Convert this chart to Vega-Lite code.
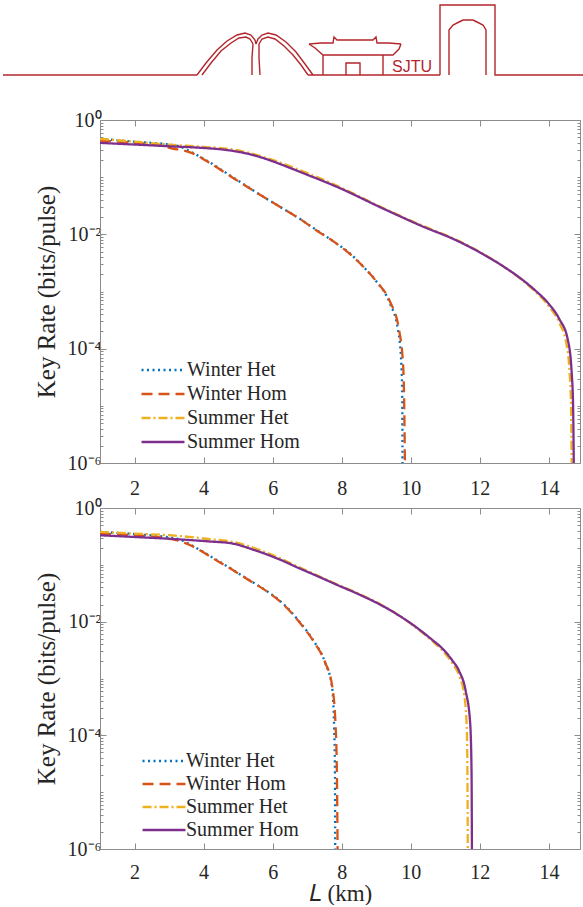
{
  "$schema": "https://vega.github.io/schema/vega-lite/v6.json",
  "padding": 0,
  "autosize": {"type": "pad"},
  "background": "white",
  "datasets": {
    "logo": [
      {"s":"b1","i":0,"px":0,"py":75},{"s":"b1","i":1,"px":194,"py":75},
      {"s":"a1","i":0,"px":194,"py":75},{"s":"a1","i":1,"px":203,"py":63},{"s":"a1","i":2,"px":214,"py":50},{"s":"a1","i":3,"px":224,"py":41},{"s":"a1","i":4,"px":234,"py":35},{"s":"a1","i":5,"px":242,"py":33},{"s":"a1","i":6,"px":248,"py":35},{"s":"a1","i":7,"px":252,"py":40},{"s":"a1","i":8,"px":253,"py":44},
      {"s":"a2","i":0,"px":199,"py":75},{"s":"a2","i":1,"px":208,"py":63},{"s":"a2","i":2,"px":218,"py":51},{"s":"a2","i":3,"px":228,"py":43},{"s":"a2","i":4,"px":236,"py":38},{"s":"a2","i":5,"px":243,"py":37},{"s":"a2","i":6,"px":247,"py":39},{"s":"a2","i":7,"px":250,"py":44},
      {"s":"s1","i":0,"px":250,"py":44},{"s":"s1","i":1,"px":249,"py":58},{"s":"s1","i":2,"px":249,"py":75},
      {"s":"s2","i":0,"px":256,"py":44},{"s":"s2","i":1,"px":256,"py":58},{"s":"s2","i":2,"px":257,"py":75},
      {"s":"a3","i":0,"px":253,"py":44},{"s":"a3","i":1,"px":255,"py":39},{"s":"a3","i":2,"px":259,"py":35},{"s":"a3","i":3,"px":265,"py":33},{"s":"a3","i":4,"px":273,"py":35},{"s":"a3","i":5,"px":283,"py":42},{"s":"a3","i":6,"px":293,"py":52},{"s":"a3","i":7,"px":302,"py":64},{"s":"a3","i":8,"px":310,"py":75},
      {"s":"a4","i":0,"px":256,"py":44},{"s":"a4","i":1,"px":259,"py":39},{"s":"a4","i":2,"px":265,"py":37},{"s":"a4","i":3,"px":272,"py":39},{"s":"a4","i":4,"px":281,"py":46},{"s":"a4","i":5,"px":290,"py":55},{"s":"a4","i":6,"px":298,"py":65},{"s":"a4","i":7,"px":305,"py":75},
      {"s":"b2","i":0,"px":305,"py":75},{"s":"b2","i":1,"px":437,"py":75},
      {"s":"r1","i":0,"px":306,"py":44},{"s":"r1","i":1,"px":318,"py":43},{"s":"r1","i":2,"px":330,"py":43},{"s":"r1","i":3,"px":331,"py":37},{"s":"r1","i":4,"px":334,"py":40},{"s":"r1","i":5,"px":370,"py":40},{"s":"r1","i":6,"px":373,"py":37},{"s":"r1","i":7,"px":374,"py":43},{"s":"r1","i":8,"px":386,"py":43},{"s":"r1","i":9,"px":398,"py":44},
      {"s":"r2","i":0,"px":306,"py":44},{"s":"r2","i":1,"px":312,"py":48},{"s":"r2","i":2,"px":320,"py":55},{"s":"r2","i":3,"px":390,"py":55},{"s":"r2","i":4,"px":396,"py":49},{"s":"r2","i":5,"px":398,"py":44},
      {"s":"w1","i":0,"px":320,"py":55},{"s":"w1","i":1,"px":320,"py":75},
      {"s":"w2","i":0,"px":380,"py":55},{"s":"w2","i":1,"px":380,"py":75},
      {"s":"d1","i":0,"px":343,"py":75},{"s":"d1","i":1,"px":343,"py":63},{"s":"d1","i":2,"px":357,"py":63},{"s":"d1","i":3,"px":357,"py":75},
      {"s":"t1","i":0,"px":437,"py":75},{"s":"t1","i":1,"px":437,"py":5},{"s":"t1","i":2,"px":492,"py":5},{"s":"t1","i":3,"px":492,"py":75},{"s":"t1","i":4,"px":583,"py":75},
      {"s":"t2","i":0,"px":446,"py":75},{"s":"t2","i":1,"px":446,"py":30},{"s":"t2","i":2,"px":450,"py":25},{"s":"t2","i":3,"px":456,"py":22},{"s":"t2","i":4,"px":460,"py":20},{"s":"t2","i":5,"px":470,"py":20},{"s":"t2","i":6,"px":474,"py":22},{"s":"t2","i":7,"px":480,"py":25},{"s":"t2","i":8,"px":483,"py":30},{"s":"t2","i":9,"px":483,"py":75}
    ],
    "top": [
      {"series":"Winter Het","x":1,"y":0.468},{"series":"Winter Het","x":2,"y":0.417},{"series":"Winter Het","x":3,"y":0.372},{"series":"Winter Het","x":3.3,"y":0.347},{"series":"Winter Het","x":3.67,"y":0.269},{"series":"Winter Het","x":4.06,"y":0.2},{"series":"Winter Het","x":4.82,"y":0.102},{"series":"Winter Het","x":5.8,"y":0.0427},{"series":"Winter Het","x":6.3,"y":0.0282},{"series":"Winter Het","x":6.76,"y":0.0191},{"series":"Winter Het","x":7.26,"y":0.012},{"series":"Winter Het","x":7.75,"y":0.00759},{"series":"Winter Het","x":8.23,"y":0.00468},{"series":"Winter Het","x":8.71,"y":0.0024},{"series":"Winter Het","x":9.0,"y":0.00151},{"series":"Winter Het","x":9.39,"y":0.000631},{"series":"Winter Het","x":9.63,"y":0.000214},{"series":"Winter Het","x":9.73,"y":0.000049},{"series":"Winter Het","x":9.755,"y":0.00001},{"series":"Winter Het","x":9.76,"y":0.000001},
      {"series":"Winter Hom","x":1,"y":0.437},{"series":"Winter Hom","x":2,"y":0.398},{"series":"Winter Hom","x":2.8,"y":0.355},{"series":"Winter Hom","x":3.1,"y":0.316},{"series":"Winter Hom","x":3.4,"y":0.295},{"series":"Winter Hom","x":3.67,"y":0.263},{"series":"Winter Hom","x":4.06,"y":0.195},{"series":"Winter Hom","x":4.82,"y":0.1},{"series":"Winter Hom","x":5.8,"y":0.0427},{"series":"Winter Hom","x":6.3,"y":0.0282},{"series":"Winter Hom","x":6.76,"y":0.0191},{"series":"Winter Hom","x":7.26,"y":0.0118},{"series":"Winter Hom","x":7.75,"y":0.00759},{"series":"Winter Hom","x":8.23,"y":0.00457},{"series":"Winter Hom","x":8.71,"y":0.0024},{"series":"Winter Hom","x":9.0,"y":0.00151},{"series":"Winter Hom","x":9.4,"y":0.000661},{"series":"Winter Hom","x":9.66,"y":0.000214},{"series":"Winter Hom","x":9.78,"y":0.000049},{"series":"Winter Hom","x":9.81,"y":0.00001},{"series":"Winter Hom","x":9.83,"y":0.000001},
      {"series":"Summer Het","x":1,"y":0.468},{"series":"Summer Het","x":2,"y":0.417},{"series":"Summer Het","x":3,"y":0.372},{"series":"Summer Het","x":4,"y":0.339},{"series":"Summer Het","x":4.8,"y":0.309},{"series":"Summer Het","x":5.8,"y":0.219},{"series":"Summer Het","x":6.8,"y":0.132},{"series":"Summer Het","x":7.9,"y":0.0692},{"series":"Summer Het","x":9.2,"y":0.0288},{"series":"Summer Het","x":10.3,"y":0.0145},{"series":"Summer Het","x":11.3,"y":0.00813},{"series":"Summer Het","x":12.1,"y":0.00457},{"series":"Summer Het","x":12.6,"y":0.00295},{"series":"Summer Het","x":13.2,"y":0.00162},{"series":"Summer Het","x":13.6,"y":0.001},{"series":"Summer Het","x":14.0,"y":0.00055},{"series":"Summer Het","x":14.3,"y":0.000282},{"series":"Summer Het","x":14.5,"y":0.000126},{"series":"Summer Het","x":14.6,"y":0.0000372},{"series":"Summer Het","x":14.64,"y":0.00001},{"series":"Summer Het","x":14.66,"y":0.000001},
      {"series":"Summer Hom","x":1,"y":0.398},{"series":"Summer Hom","x":2,"y":0.372},{"series":"Summer Hom","x":3,"y":0.347},{"series":"Summer Hom","x":4,"y":0.324},{"series":"Summer Hom","x":4.6,"y":0.302},{"series":"Summer Hom","x":5.2,"y":0.263},{"series":"Summer Hom","x":5.8,"y":0.209},{"series":"Summer Hom","x":6.3,"y":0.162},{"series":"Summer Hom","x":6.8,"y":0.123},{"series":"Summer Hom","x":7.9,"y":0.0661},{"series":"Summer Hom","x":9.2,"y":0.0282},{"series":"Summer Hom","x":10.3,"y":0.0141},{"series":"Summer Hom","x":11.3,"y":0.00794},{"series":"Summer Hom","x":12.1,"y":0.00447},{"series":"Summer Hom","x":12.6,"y":0.00295},{"series":"Summer Hom","x":13.2,"y":0.00166},{"series":"Summer Hom","x":13.6,"y":0.00105},{"series":"Summer Hom","x":14.0,"y":0.000603},{"series":"Summer Hom","x":14.3,"y":0.000331},{"series":"Summer Hom","x":14.55,"y":0.000141},{"series":"Summer Hom","x":14.66,"y":0.0000372},{"series":"Summer Hom","x":14.7,"y":0.00001},{"series":"Summer Hom","x":14.72,"y":0.000001}
    ],
    "bot": [
      {"series":"Winter Het","x":1,"y":0.38},{"series":"Winter Het","x":2,"y":0.347},{"series":"Winter Het","x":3.24,"y":0.288},{"series":"Winter Het","x":3.63,"y":0.224},{"series":"Winter Het","x":4.31,"y":0.129},{"series":"Winter Het","x":4.8,"y":0.0851},{"series":"Winter Het","x":5.27,"y":0.0562},{"series":"Winter Het","x":5.8,"y":0.0355},{"series":"Winter Het","x":6.3,"y":0.0209},{"series":"Winter Het","x":6.84,"y":0.00891},{"series":"Winter Het","x":7.2,"y":0.00447},{"series":"Winter Het","x":7.52,"y":0.0019},{"series":"Winter Het","x":7.72,"y":0.000708},{"series":"Winter Het","x":7.78,"y":0.000141},{"series":"Winter Het","x":7.805,"y":0.0000214},{"series":"Winter Het","x":7.81,"y":0.000001},
      {"series":"Winter Hom","x":1,"y":0.355},{"series":"Winter Hom","x":2,"y":0.331},{"series":"Winter Hom","x":2.9,"y":0.295},{"series":"Winter Hom","x":3.3,"y":0.263},{"series":"Winter Hom","x":3.63,"y":0.219},{"series":"Winter Hom","x":4.31,"y":0.126},{"series":"Winter Hom","x":4.8,"y":0.0841},{"series":"Winter Hom","x":5.27,"y":0.0556},{"series":"Winter Hom","x":5.8,"y":0.0351},{"series":"Winter Hom","x":6.3,"y":0.0204},{"series":"Winter Hom","x":6.84,"y":0.00871},{"series":"Winter Hom","x":7.2,"y":0.00437},{"series":"Winter Hom","x":7.52,"y":0.00191},{"series":"Winter Hom","x":7.72,"y":0.000759},{"series":"Winter Hom","x":7.82,"y":0.000158},{"series":"Winter Hom","x":7.86,"y":0.0000214},{"series":"Winter Hom","x":7.88,"y":0.000001},
      {"series":"Summer Het","x":1,"y":0.38},{"series":"Summer Het","x":2,"y":0.355},{"series":"Summer Het","x":3.24,"y":0.324},{"series":"Summer Het","x":4.2,"y":0.282},{"series":"Summer Het","x":4.79,"y":0.257},{"series":"Summer Het","x":5.76,"y":0.17},{"series":"Summer Het","x":6.26,"y":0.126},{"series":"Summer Het","x":6.73,"y":0.0933},{"series":"Summer Het","x":7.3,"y":0.0646},{"series":"Summer Het","x":7.89,"y":0.0447},{"series":"Summer Het","x":8.5,"y":0.0309},{"series":"Summer Het","x":9.17,"y":0.0195},{"series":"Summer Het","x":10.14,"y":0.00794},{"series":"Summer Het","x":10.62,"y":0.00457},{"series":"Summer Het","x":10.91,"y":0.00316},{"series":"Summer Het","x":11.2,"y":0.00186},{"series":"Summer Het","x":11.4,"y":0.00112},{"series":"Summer Het","x":11.55,"y":0.000501},{"series":"Summer Het","x":11.62,"y":0.000141},{"series":"Summer Het","x":11.64,"y":0.0000214},{"series":"Summer Het","x":11.65,"y":0.000001},
      {"series":"Summer Hom","x":1,"y":0.331},{"series":"Summer Hom","x":2,"y":0.309},{"series":"Summer Hom","x":3.24,"y":0.282},{"series":"Summer Hom","x":4.2,"y":0.257},{"series":"Summer Hom","x":4.79,"y":0.24},{"series":"Summer Hom","x":5.47,"y":0.182},{"series":"Summer Hom","x":6.26,"y":0.12},{"series":"Summer Hom","x":6.73,"y":0.0891},{"series":"Summer Hom","x":7.3,"y":0.0631},{"series":"Summer Hom","x":7.89,"y":0.0437},{"series":"Summer Hom","x":8.5,"y":0.0302},{"series":"Summer Hom","x":9.17,"y":0.0191},{"series":"Summer Hom","x":10.14,"y":0.00813},{"series":"Summer Hom","x":10.62,"y":0.00479},{"series":"Summer Hom","x":10.91,"y":0.00339},{"series":"Summer Hom","x":11.2,"y":0.00209},{"series":"Summer Hom","x":11.4,"y":0.00135},{"series":"Summer Hom","x":11.59,"y":0.000603},{"series":"Summer Hom","x":11.72,"y":0.000162},{"series":"Summer Hom","x":11.76,"y":0.0000214},{"series":"Summer Hom","x":11.77,"y":0.000001}
    ]
  },
  "concat": [
    {
      "width": 480,
      "height": 110,
      "view": {"stroke": null},
      "layer": [
        {
          "data": {"name": "logo"},
          "mark": {"type": "line", "color": "#b3262c", "strokeWidth": 1.4},
          "encoding": {
            "x": {"field": "px", "type": "quantitative", "scale": {"domain": [97, 577], "nice": false, "zero": false}, "axis": null},
            "y": {"field": "py", "type": "quantitative", "scale": {"domain": [0, 110], "reverse": true, "nice": false, "zero": false}, "axis": null},
            "detail": {"field": "s"},
            "order": {"field": "i", "type": "quantitative"}
          }
        },
        {
          "data": {"values": [{"px": 409, "py": 67, "t": "SJTU"}]},
          "mark": {"type": "text", "color": "#b3262c", "fontSize": 16, "font": "Liberation Sans"},
          "encoding": {
            "x": {"field": "px", "type": "quantitative"},
            "y": {"field": "py", "type": "quantitative"},
            "text": {"field": "t"}
          }
        }
      ]
    },
    {
      "width": 480,
      "height": 343,
      "data": {"name": "top"},
      "layer": [
        {
          "mark": {"type": "line", "strokeWidth": 2.3, "clip": true, "interpolate": "monotone"},
          "encoding": {
            "x": {"field": "x", "type": "quantitative", "scale": {"domain": [1, 14.9], "nice": false, "zero": false},
                  "axis": {"orient": "bottom", "values": [2, 4, 6, 8, 10, 12, 14], "title": null, "tickSize": -6, "labelPadding": 21}},
            "y": {"field": "y", "type": "quantitative", "scale": {"type": "log", "domain": [0.000001, 1], "nice": false},
                  "axis": {"orient": "left", "values": [0.000001, 0.0001, 0.01, 1], "tickSize": -6, "labelPadding": 5, "titlePadding": 8, "title": "Key Rate (bits/pulse)",
                           "labelExpr": "datum.value >= 0.5 ? '10⁰' : datum.value > 0.005 ? '10⁻²' : datum.value > 0.00005 ? '10⁻⁴' : '10⁻⁶'"}},
            "color": {"field": "series", "type": "nominal",
                      "scale": {"domain": ["Winter Het", "Winter Hom", "Summer Het", "Summer Hom"], "range": ["#0072BD", "#D95319", "#EDB120", "#7E2F8E"]},
                      "legend": {"title": null, "orient": "none", "legendX": 53, "legendY": 240, "symbolType": "M-3,0H3", "symbolSize": 205, "symbolStrokeWidth": 2.3, "labelFont": "Liberation Serif", "labelFontSize": 20, "labelColor": "#262626", "rowPadding": 4, "labelOffset": 14, "padding": 0}},
            "strokeDash": {"field": "series", "type": "nominal",
                      "scale": {"domain": ["Winter Het", "Winter Hom", "Summer Het", "Summer Hom"], "range": [[2, 3.5], [11, 6], [9, 3, 2, 3], [1, 0]]},
                      "legend": {"title": null, "orient": "none", "legendX": 53, "legendY": 240, "symbolType": "M-3,0H3", "symbolSize": 205, "symbolStrokeWidth": 2.3, "labelFont": "Liberation Serif", "labelFontSize": 20, "labelColor": "#262626", "rowPadding": 4, "labelOffset": 14, "padding": 0}}
          }
        },
        {
          "mark": {"type": "line", "opacity": 0},
          "encoding": {
            "x": {"field": "x", "type": "quantitative", "axis": {"orient": "top", "values": [2, 4, 6, 8, 10, 12, 14], "labels": false, "tickSize": -6, "title": null}},
            "y": {"field": "y", "type": "quantitative", "axis": {"orient": "right", "values": [0.000001, 0.0001, 0.01, 1], "labels": false, "tickSize": -6, "title": null}},
            "detail": {"field": "series"}
          }
        },
        {
          "mark": {"type": "line", "opacity": 0},
          "encoding": {
            "x": {"field": "x", "type": "quantitative", "axis": null},
            "y": {"field": "y", "type": "quantitative", "axis": {"orient": "left", "domain": false, "labels": false, "tickSize": -3, "title": null,
              "values": [0.000002,0.000003,0.000004,0.000005,0.000006,0.000007,0.000008,0.000009,0.00001,0.00002,0.00003,0.00004,0.00005,0.00006,0.00007,0.00008,0.00009,0.0002,0.0003,0.0004,0.0005,0.0006,0.0007,0.0008,0.0009,0.001,0.002,0.003,0.004,0.005,0.006,0.007,0.008,0.009,0.02,0.03,0.04,0.05,0.06,0.07,0.08,0.09,0.1,0.2,0.3,0.4,0.5,0.6,0.7,0.8,0.9]}},
            "detail": {"field": "series"}
          }
        },
        {
          "mark": {"type": "line", "opacity": 0},
          "encoding": {
            "x": {"field": "x", "type": "quantitative", "axis": null},
            "y": {"field": "y", "type": "quantitative", "axis": {"orient": "right", "domain": false, "labels": false, "tickSize": -3, "title": null,
              "values": [0.000002,0.000003,0.000004,0.000005,0.000006,0.000007,0.000008,0.000009,0.00001,0.00002,0.00003,0.00004,0.00005,0.00006,0.00007,0.00008,0.00009,0.0002,0.0003,0.0004,0.0005,0.0006,0.0007,0.0008,0.0009,0.001,0.002,0.003,0.004,0.005,0.006,0.007,0.008,0.009,0.02,0.03,0.04,0.05,0.06,0.07,0.08,0.09,0.1,0.2,0.3,0.4,0.5,0.6,0.7,0.8,0.9]}},
            "detail": {"field": "series"}
          }
        }
      ],
      "resolve": {"axis": {"x": "independent", "y": "independent"}}
    },
    {
      "width": 480,
      "height": 341,
      "data": {"name": "bot"},
      "layer": [
        {
          "mark": {"type": "line", "strokeWidth": 2.3, "clip": true, "interpolate": "monotone"},
          "encoding": {
            "x": {"field": "x", "type": "quantitative", "scale": {"domain": [1, 14.9], "nice": false, "zero": false},
                  "axis": {"orient": "bottom", "values": [2, 4, 6, 8, 10, 12, 14], "title": "𝐿 (km)", "titlePadding": 0, "titleFontSize": 23, "tickSize": -6, "labelPadding": 19}},
            "y": {"field": "y", "type": "quantitative", "scale": {"type": "log", "domain": [0.000001, 1], "nice": false},
                  "axis": {"orient": "left", "values": [0.000001, 0.0001, 0.01, 1], "tickSize": -6, "labelPadding": 5, "titlePadding": 8, "title": "Key Rate (bits/pulse)",
                           "labelExpr": "datum.value >= 0.5 ? '10⁰' : datum.value > 0.005 ? '10⁻²' : datum.value > 0.00005 ? '10⁻⁴' : '10⁻⁶'"}},
            "color": {"field": "series", "type": "nominal",
                      "scale": {"domain": ["Winter Het", "Winter Hom", "Summer Het", "Summer Hom"], "range": ["#0072BD", "#D95319", "#EDB120", "#7E2F8E"]},
                      "legend": {"title": null, "orient": "none", "legendX": 54, "legendY": 243, "symbolType": "M-3,0H3", "symbolSize": 205, "symbolStrokeWidth": 2.3, "labelFont": "Liberation Serif", "labelFontSize": 20, "labelColor": "#262626", "rowPadding": 3, "labelOffset": 12, "padding": 0}},
            "strokeDash": {"field": "series", "type": "nominal",
                      "scale": {"domain": ["Winter Het", "Winter Hom", "Summer Het", "Summer Hom"], "range": [[2, 3.5], [11, 6], [9, 3, 2, 3], [1, 0]]},
                      "legend": {"title": null, "orient": "none", "legendX": 54, "legendY": 243, "symbolType": "M-3,0H3", "symbolSize": 205, "symbolStrokeWidth": 2.3, "labelFont": "Liberation Serif", "labelFontSize": 20, "labelColor": "#262626", "rowPadding": 3, "labelOffset": 12, "padding": 0}}
          }
        },
        {
          "mark": {"type": "line", "opacity": 0},
          "encoding": {
            "x": {"field": "x", "type": "quantitative", "axis": {"orient": "top", "values": [2, 4, 6, 8, 10, 12, 14], "labels": false, "tickSize": -6, "title": null}},
            "y": {"field": "y", "type": "quantitative", "axis": {"orient": "right", "values": [0.000001, 0.0001, 0.01, 1], "labels": false, "tickSize": -6, "title": null}},
            "detail": {"field": "series"}
          }
        },
        {
          "mark": {"type": "line", "opacity": 0},
          "encoding": {
            "x": {"field": "x", "type": "quantitative", "axis": null},
            "y": {"field": "y", "type": "quantitative", "axis": {"orient": "left", "domain": false, "labels": false, "tickSize": -3, "title": null,
              "values": [0.000002,0.000003,0.000004,0.000005,0.000006,0.000007,0.000008,0.000009,0.00001,0.00002,0.00003,0.00004,0.00005,0.00006,0.00007,0.00008,0.00009,0.0002,0.0003,0.0004,0.0005,0.0006,0.0007,0.0008,0.0009,0.001,0.002,0.003,0.004,0.005,0.006,0.007,0.008,0.009,0.02,0.03,0.04,0.05,0.06,0.07,0.08,0.09,0.1,0.2,0.3,0.4,0.5,0.6,0.7,0.8,0.9]}},
            "detail": {"field": "series"}
          }
        },
        {
          "mark": {"type": "line", "opacity": 0},
          "encoding": {
            "x": {"field": "x", "type": "quantitative", "axis": null},
            "y": {"field": "y", "type": "quantitative", "axis": {"orient": "right", "domain": false, "labels": false, "tickSize": -3, "title": null,
              "values": [0.000002,0.000003,0.000004,0.000005,0.000006,0.000007,0.000008,0.000009,0.00001,0.00002,0.00003,0.00004,0.00005,0.00006,0.00007,0.00008,0.00009,0.0002,0.0003,0.0004,0.0005,0.0006,0.0007,0.0008,0.0009,0.001,0.002,0.003,0.004,0.005,0.006,0.007,0.008,0.009,0.02,0.03,0.04,0.05,0.06,0.07,0.08,0.09,0.1,0.2,0.3,0.4,0.5,0.6,0.7,0.8,0.9]}},
            "detail": {"field": "series"}
          }
        }
      ],
      "resolve": {"axis": {"x": "independent", "y": "independent"}}
    }
  ],
  "columns": 1,
  "align": {"row": "none", "column": "all"},
  "spacing": 0,
  "resolve": {"scale": {"color": "independent", "strokeDash": "independent"}, "legend": {"color": "independent", "strokeDash": "independent"}},
  "config": {
    "view": {"stroke": null},
    "axis": {"grid": false, "domainColor": "#8c8c8c", "tickColor": "#8c8c8c", "labelColor": "#262626", "titleColor": "#262626", "labelFont": "Liberation Serif", "titleFont": "Liberation Serif", "labelFontSize": 20, "titleFontSize": 25, "titleFontWeight": "normal", "domainWidth": 1, "tickWidth": 1}
  }
}
